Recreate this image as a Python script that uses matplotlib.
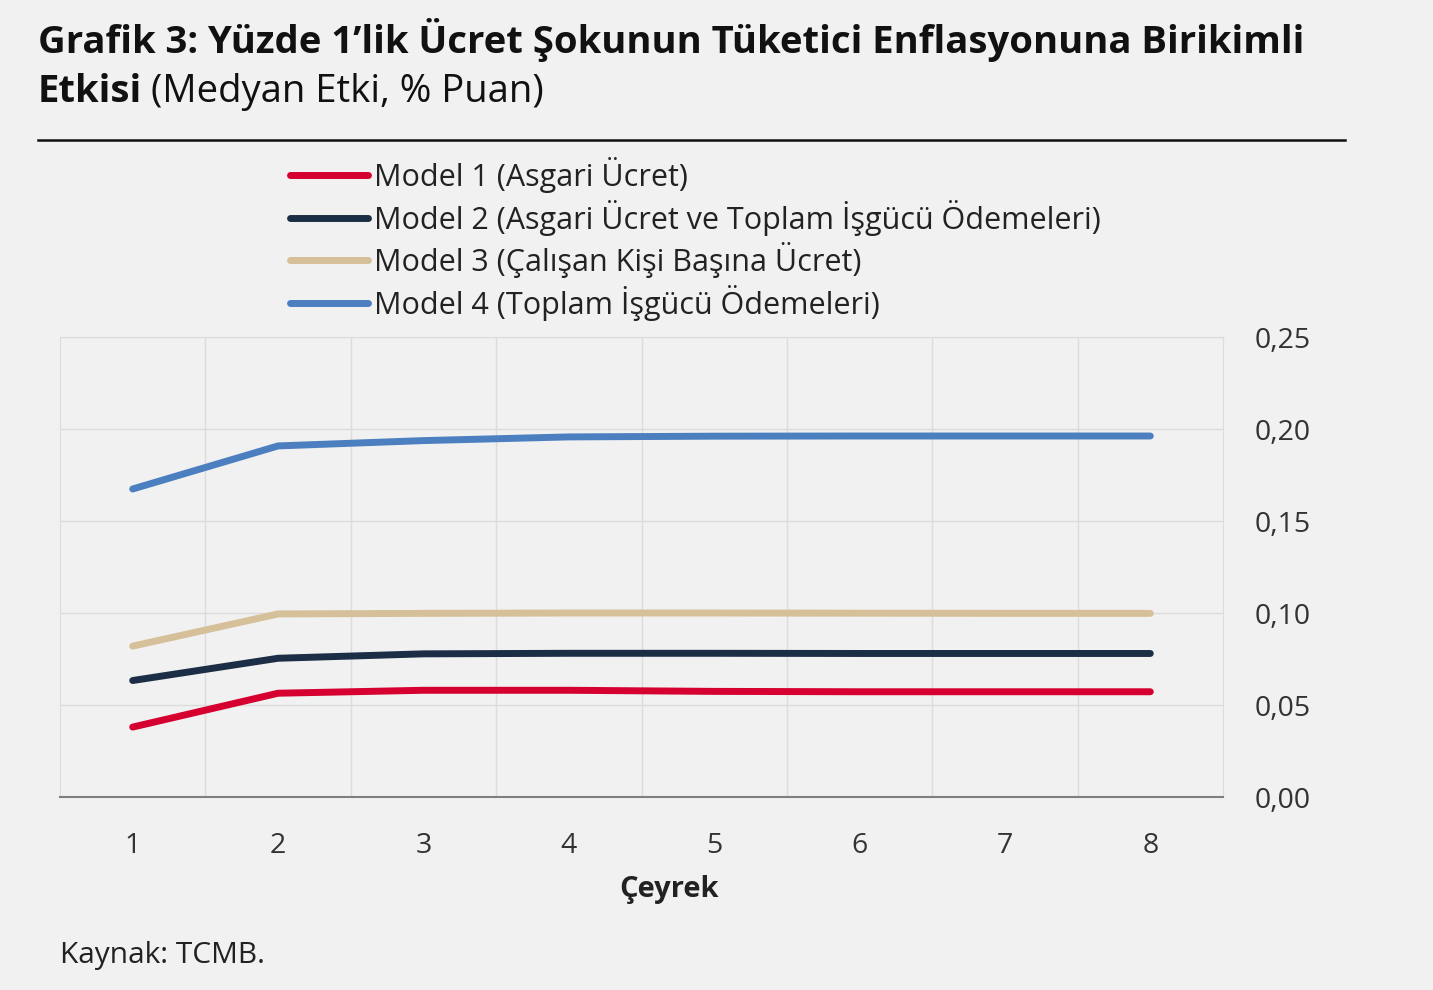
import matplotlib.pyplot as plt
from matplotlib.ticker import FixedLocator, FuncFormatter

plt.rcParams['font.family'] = ['Open Sans', 'DejaVu Sans']

quarters = [1, 2, 3, 4, 5, 6, 7, 8]
model1 = [0.038, 0.0564, 0.0580, 0.0580, 0.0574, 0.0572, 0.0572, 0.0572]
model2 = [0.0633, 0.0754, 0.0778, 0.0781, 0.0781, 0.0780, 0.0780, 0.0780]
model3 = [0.0820, 0.0995, 0.0998, 0.1000, 0.1000, 0.0999, 0.0998, 0.0998]
model4 = [0.1674, 0.1908, 0.1937, 0.1957, 0.1961, 0.1962, 0.1962, 0.1962]

labels = [
    "Model 1 (Asgari Ücret)",
    "Model 2 (Asgari Ücret ve Toplam İşgücü Ödemeleri)",
    "Model 3 (Çalışan Kişi Başına Ücret)",
    "Model 4 (Toplam İşgücü Ödemeleri)",
]
colors = ["#d5002f", "#1c2e45", "#d6c09a", "#4c7fbf"]
yticks = [0.0, 0.05, 0.10, 0.15, 0.20, 0.25]

bg = "#f1f1f1"
W, H = 1433, 990
fig = plt.figure(figsize=(W / 100, H / 100), dpi=100, facecolor=bg)
ax = fig.add_axes([60 / W, 1 - 797 / H, (1223 - 60) / W, (797 - 337) / H])
ax.set_facecolor(bg)

for vals, c, lab in zip([model1, model2, model3, model4], colors, labels):
    ax.plot(quarters, vals, color=c, linewidth=5, solid_capstyle="round", label=lab)

ax.set_xlim(0.5, 8.5)
ax.set_ylim(0, 0.25)
ax.set_xticks(quarters)
ax.xaxis.set_minor_locator(FixedLocator([q + 0.5 for q in quarters[:-1]]))
ax.set_yticks(yticks)
ax.yaxis.set_major_formatter(FuncFormatter(lambda v, p: f"{v:.2f}".replace(".", ",")))
ax.yaxis.tick_right()
ax.grid(which="minor", axis="x", color="#dcdcdc", linewidth=1)
ax.grid(which="major", axis="y", color="#dcdcdc", linewidth=1)
ax.tick_params(which="both", length=0)
ax.tick_params(axis="x", labelsize=20.5, pad=25, colors="#333333")
ax.tick_params(axis="y", labelsize=20.5, pad=23, colors="#333333")
for t in ax.get_yticklabels():
    t.set_horizontalalignment("left")
for s in ["left", "top", "right"]:
    ax.spines[s].set_color("#dcdcdc")
ax.spines["bottom"].set_color("#7f7f7f")
ax.spines["bottom"].set_linewidth(1.5)

ax.set_xlabel("Çeyrek", fontsize=21, fontweight="bold", color="#222222")
ax.xaxis.set_label_coords((669 - 60) / 1163, -(890 - 797) / 460, transform=ax.transAxes)
ax.xaxis.label.set_verticalalignment("center")

leg = ax.legend(loc="upper left", bbox_to_anchor=(290 / W, 1 - 157 / H),
                bbox_transform=fig.transFigure, frameon=False, fontsize=22,
                handlelength=2.55, handletextpad=0.2, labelspacing=0.215, borderpad=0,
                borderaxespad=0)
for t in leg.get_texts():
    t.set_color("#222222")

# title
t1 = fig.text(38 / W, 1 - 40 / H, "Grafik 3: Yüzde 1’lik Ücret Şokunun Tüketici Enflasyonuna Birikimli",
              fontsize=27.5, fontweight="bold", va="center", color="#111111")
t2 = fig.text(38 / W, 1 - 92 / H, "Etkisi", fontsize=27.5, fontweight="bold", va="center", color="#111111")
fig.canvas.draw()
bb = t2.get_window_extent()
fig.text(bb.x1 / W + 9 / W, 1 - 92 / H, "(Medyan Etki, % Puan)", fontsize=27.5, va="center", color="#111111")
fig.add_artist(plt.Line2D([38 / W, 1345 / W], [1 - 140 / H, 1 - 140 / H], color="#111111", linewidth=1.8))

fig.text(60 / W, 1 - 955 / H, "Kaynak: TCMB.", fontsize=21.5, va="center", color="#222222")

fig.savefig("out.png", dpi=100, facecolor=bg)
